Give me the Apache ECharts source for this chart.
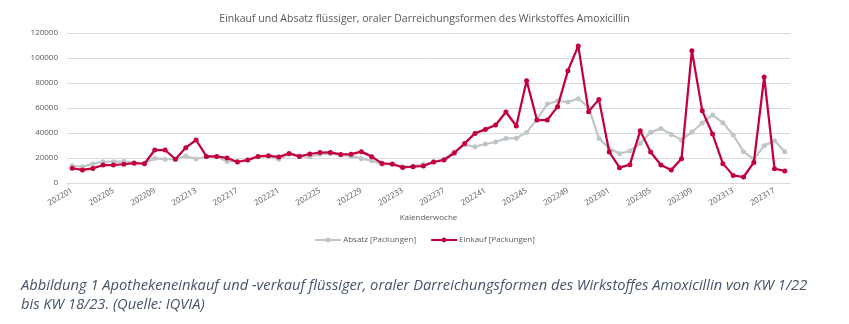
<!DOCTYPE html>
<html>
<head>
<meta charset="utf-8">
<script src="https://cdn.jsdelivr.net/npm/echarts@6/dist/echarts.min.js"></script>
<style>
  html, body { margin: 0; padding: 0; background: #ffffff; }
  #chart { width: 849px; height: 324px; }
</style>
</head>
<body>
<div id="chart"></div>
<script>
// Kalenderwochen KW 1/22 bis KW 18/23
const weeks = [
  '202201','202202','202203','202204','202205','202206','202207','202208','202209','202210',
  '202211','202212','202213','202214','202215','202216','202217','202218','202219','202220',
  '202221','202222','202223','202224','202225','202226','202227','202228','202229','202230',
  '202231','202232','202233','202234','202235','202236','202237','202238','202239','202240',
  '202241','202242','202243','202244','202245','202246','202247','202248','202249','202250',
  '202251','202252','202301','202302','202303','202304','202305','202306','202307','202308',
  '202309','202310','202311','202312','202313','202314','202315','202316','202317','202318'
];

// Abverkauf (Packungen)
const absatz = [
  13800, 13000, 15300, 17000, 17100, 17200, 16400, 15800, 19700, 19100,
  19000, 21600, 19300, 21000, 21000, 17200, 17400, 18500, 21000, 21400,
  19000, 23000, 21500, 21000, 23000, 23500, 22500, 21500, 19500, 17900,
  15000, 14800, 13000, 13600, 15000, 17000, 19000, 25000, 30400, 29100,
  31200, 32800, 35700, 35900, 40500, 50900, 63200, 65600, 64800, 67500,
  60500, 35700, 27700, 23500, 25600, 31700, 40500, 43700, 38900, 34400,
  40800, 48000, 54400, 48300, 38400, 25100, 19000, 29900, 33900, 25100
];

// Einkauf (Packungen)
const einkauf = [
  11800, 10500, 11700, 14400, 14400, 15000, 15900, 15400, 26400, 26400,
  19000, 28300, 34400, 21300, 21300, 20000, 16800, 18400, 21300, 21900,
  20800, 23700, 21300, 23200, 24400, 24500, 22900, 23100, 25100, 21100,
  15700, 15200, 12500, 13000, 13600, 16800, 18400, 24000, 31700, 39700,
  42900, 46400, 56800, 45600, 81900, 50400, 50400, 61100, 89900, 109700,
  57100, 66900, 24800, 12300, 14700, 41900, 24800, 14400, 10400, 19500,
  105900, 57900, 39200, 15500, 6100, 4800, 16500, 84800, 11500, 9600
];

const chartTitle = 'Einkauf und Absatz flüssiger, oraler Darreichungsformen des Wirkstoffes Amoxicillin';
const captionText = 'Abbildung 1 Apothekeneinkauf und -verkauf flüssiger, oraler Darreichungsformen des Wirkstoffes Amoxicillin von KW 1/22\nbis KW 18/23. (Quelle: IQVIA)';

const GREY = '#BFC6CA';
const RED = '#C4003C';
const TXT = '#595959';

const chart = echarts.init(document.getElementById('chart'), null, { renderer: 'canvas' });

chart.setOption({
  animation: false,
  backgroundColor: '#ffffff',
  textStyle: { fontFamily: 'Open Sans' },
  title: [
    {
      text: chartTitle,
      left: 'center',
      top: 9,
      textStyle: { fontFamily: 'Open Sans', fontSize: 10.5, fontWeight: 'normal', color: TXT }
    },
    {
      text: captionText,
      left: 16,
      top: 271,
      textStyle: {
        fontFamily: 'Open Sans', fontSize: 14.7, fontStyle: 'italic', fontWeight: 'normal',
        color: '#44546A', lineHeight: 19
      }
    }
  ],
  grid: { left: 67, right: 59, top: 33, bottom: 141, containLabel: false },
  legend: {
    data: ['Absatz [Packungen]', 'Einkauf [Packungen]'],
    top: 231,
    left: 'center',
    itemWidth: 26,
    itemHeight: 6,
    itemGap: 14,
    textStyle: { fontSize: 8, color: TXT, padding: [0, 0, 0, -3] }
  },
  xAxis: {
    type: 'category',
    data: weeks,
    boundaryGap: true,
    name: 'Kalenderwoche',
    nameLocation: 'middle',
    nameGap: 31,
    nameTextStyle: { fontSize: 8, color: TXT },
    axisLine: { show: true, lineStyle: { color: '#D9D9D9', width: 1 } },
    axisTick: { show: false },
    axisLabel: { interval: 3, rotate: 30, fontSize: 8, color: TXT, margin: 7 }
  },
  yAxis: {
    type: 'value',
    min: 0,
    max: 120000,
    interval: 20000,
    axisLine: { show: false },
    axisTick: { show: false },
    axisLabel: { fontSize: 8, color: TXT, margin: 9, formatter: (v) => String(v) },
    splitLine: { lineStyle: { color: '#D9D9D9', width: 1 } }
  },
  series: [
    {
      name: 'Absatz [Packungen]',
      type: 'line',
      data: absatz,
      symbol: 'circle',
      symbolSize: 5,
      lineStyle: { color: GREY, width: 2.25 },
      itemStyle: { color: GREY },
      z: 2
    },
    {
      name: 'Einkauf [Packungen]',
      type: 'line',
      data: einkauf,
      symbol: 'circle',
      symbolSize: 5,
      lineStyle: { color: RED, width: 2.25 },
      itemStyle: { color: RED },
      z: 3
    }
  ]
});
</script>
</body>
</html>
